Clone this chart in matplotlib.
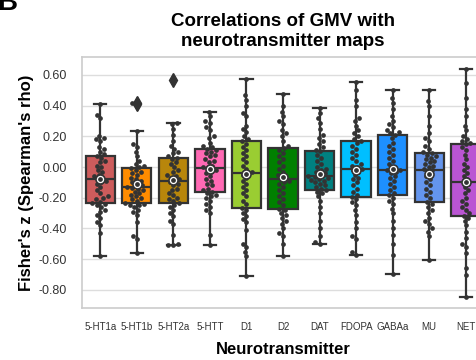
import numpy as np
import pandas as pd
import matplotlib
matplotlib.use("Agg")
import matplotlib.pyplot as plt
import seaborn as sns

categories = ["5-HT1a", "5-HT1b", "5-HT2a", "5-HTT", "D1", "D2", "DAT",
              "FDOPA", "GABAa", "MU", "NET"]
colors = ["#CD5C5C", "#FF8C00", "#B8860B", "#FF69B4", "#9ACD32", "#008000",
          "#008080", "#00BFFF", "#1E90FF", "#6495ED", "#BA55D3"]

ht1a = [-0.58, -0.43, -0.38, -0.36, -0.33, -0.31, -0.29, -0.28, -0.26, -0.25, -0.24,
        -0.235, -0.225, -0.21, -0.20, -0.19, -0.17, -0.15, -0.13, -0.11, -0.10, -0.09,
        -0.08, -0.07, -0.06, -0.05, -0.03, -0.02, 0.00, 0.01, 0.03, 0.04, 0.06,
        0.075, 0.085, 0.10, 0.12, 0.13, 0.17, 0.18, 0.19, 0.20, 0.32, 0.34, 0.41]
ht1b = [-0.56, -0.47, -0.45, -0.36, -0.31, -0.29, -0.28, -0.26, -0.25, -0.245, -0.24,
        -0.235, -0.22, -0.21, -0.20, -0.19, -0.18, -0.17, -0.16, -0.15, -0.14, -0.135,
        -0.13, -0.12, -0.11, -0.10, -0.09, -0.08, -0.07, -0.05, -0.04, -0.03, -0.02,
        -0.005, 0.00, 0.01, 0.02, 0.04, 0.07, 0.10, 0.13, 0.15, 0.235, 0.41, 0.42]
ht2a = [-0.51, -0.505, -0.50, -0.44, -0.37, -0.35, -0.32, -0.30, -0.28, -0.26, -0.25,
        -0.235, -0.22, -0.21, -0.20, -0.18, -0.17, -0.15, -0.14, -0.12, -0.11, -0.10,
        -0.09, -0.08, -0.07, -0.06, -0.05, -0.03, -0.02, 0.00, 0.02, 0.03, 0.05,
        0.06, 0.07, 0.09, 0.10, 0.12, 0.14, 0.17, 0.21, 0.25, 0.28, 0.29, 0.565]
htt = [-0.505, -0.44, -0.30, -0.28, -0.26, -0.24, -0.22, -0.20, -0.19, -0.18, -0.17,
       -0.16, -0.15, -0.14, -0.12, -0.11, -0.09, -0.08, -0.06, -0.04, -0.03, -0.02,
       -0.005, 0.00, 0.01, 0.03, 0.04, 0.05, 0.07, 0.08, 0.09, 0.10, 0.11,
       0.12, 0.13, 0.14, 0.16, 0.19, 0.20, 0.24, 0.26, 0.29, 0.30, 0.33, 0.36]
d1 = [-0.71, -0.58, -0.55, -0.52, -0.50, -0.41, -0.36, -0.34, -0.32, -0.30, -0.28,
      -0.267, -0.24, -0.22, -0.19, -0.17, -0.15, -0.13, -0.11, -0.09, -0.07, -0.05,
      -0.04, -0.03, -0.01, 0.01, 0.03, 0.05, 0.07, 0.09, 0.11, 0.13, 0.15,
      0.167, 0.18, 0.20, 0.23, 0.25, 0.27, 0.33, 0.35, 0.40, 0.44, 0.47, 0.574]
d2 = [-0.578, -0.50, -0.45, -0.43, -0.40, -0.37, -0.35, -0.33, -0.31, -0.30, -0.28,
      -0.272, -0.25, -0.23, -0.21, -0.19, -0.17, -0.15, -0.13, -0.11, -0.10, -0.09,
      -0.076, -0.06, -0.05, -0.03, -0.01, 0.01, 0.03, 0.05, 0.07, 0.09, 0.11,
      0.122, 0.14, 0.17, 0.20, 0.22, 0.24, 0.28, 0.30, 0.33, 0.36, 0.40, 0.476]
dat = [-0.498, -0.49, -0.45, -0.40, -0.35, -0.30, -0.26, -0.22, -0.19, -0.17, -0.16,
       -0.15, -0.14, -0.13, -0.12, -0.11, -0.10, -0.09, -0.085, -0.08, -0.07, -0.065,
       -0.061, -0.05, -0.04, -0.03, -0.02, -0.01, 0.00, 0.02, 0.04, 0.06, 0.08,
       0.104, 0.11, 0.13, 0.15, 0.17, 0.19, 0.21, 0.25, 0.29, 0.32, 0.35, 0.383]
fdopa = [-0.57, -0.55, -0.47, -0.45, -0.40, -0.36, -0.31, -0.28, -0.25, -0.23, -0.21,
         -0.198, -0.18, -0.16, -0.14, -0.12, -0.10, -0.08, -0.07, -0.05, -0.03, -0.02,
         -0.013, 0.00, 0.01, 0.02, 0.04, 0.06, 0.08, 0.10, 0.12, 0.14, 0.155,
         0.167, 0.18, 0.20, 0.22, 0.24, 0.27, 0.30, 0.32, 0.40, 0.44, 0.50, 0.557]
gabaa = [-0.698, -0.57, -0.50, -0.44, -0.40, -0.35, -0.30, -0.27, -0.24, -0.22, -0.20,
         -0.183, -0.17, -0.15, -0.13, -0.11, -0.09, -0.07, -0.06, -0.04, -0.03, -0.02,
         -0.017, 0.00, 0.02, 0.04, 0.06, 0.08, 0.10, 0.12, 0.14, 0.16, 0.19,
         0.211, 0.22, 0.23, 0.24, 0.26, 0.28, 0.30, 0.33, 0.38, 0.42, 0.45, 0.504]
mu = [-0.604, -0.45, -0.42, -0.40, -0.37, -0.35, -0.33, -0.30, -0.28, -0.26, -0.24,
      -0.226, -0.20, -0.18, -0.16, -0.14, -0.12, -0.10, -0.08, -0.06, -0.05, -0.03,
      -0.02, -0.01, 0.00, 0.01, 0.02, 0.03, 0.04, 0.05, 0.06, 0.07, 0.08,
      0.091, 0.10, 0.12, 0.14, 0.17, 0.19, 0.22, 0.27, 0.33, 0.40, 0.43, 0.504]
net = [-0.845, -0.70, -0.66, -0.56, -0.52, -0.50, -0.46, -0.42, -0.38, -0.35, -0.33,
       -0.317, -0.30, -0.28, -0.26, -0.24, -0.22, -0.20, -0.17, -0.15, -0.13, -0.11,
       -0.10, -0.08, -0.06, -0.04, -0.02, 0.00, 0.02, 0.05, 0.08, 0.11, 0.13,
       0.15, 0.16, 0.17, 0.18, 0.20, 0.24, 0.27, 0.33, 0.38, 0.45, 0.55, 0.636]

data = [ht1a, ht1b, ht2a, htt, d1, d2, dat, fdopa, gabaa, mu, net]
yticks = [-0.8, -0.6, -0.4, -0.2, 0.0, 0.2, 0.4, 0.6]

plt.rcParams['font.family'] = ['Liberation Sans', 'DejaVu Sans']
dark = "#333333"

fig = plt.figure(figsize=(4.77, 3.6), dpi=100)
W, H = 477, 360
ax = fig.add_axes([82 / W, 1 - 308 / H, (484 - 82) / W, (308 - 57) / H])
ax.set_axisbelow(True)
ax.yaxis.grid(True, color="#dddddd", lw=1.0)
ax.xaxis.grid(False)

pos = np.arange(len(categories))
bp = ax.boxplot(data, positions=pos, widths=0.8, patch_artist=True, whis=1.5,
                capwidths=0.34, showmeans=False,
                boxprops=dict(edgecolor=dark, lw=1.6),
                medianprops=dict(color=dark, lw=1.6),
                whiskerprops=dict(color=dark, lw=1.6),
                capprops=dict(color=dark, lw=1.6),
                flierprops=dict(marker='d', markerfacecolor=dark,
                                markeredgecolor=dark, markersize=7))
for patch, c in zip(bp['boxes'], colors):
    patch.set_facecolor(c)

df = pd.DataFrame({
    "cat": np.repeat(categories, [len(d) for d in data]),
    "val": np.concatenate(data),
})
sns.swarmplot(data=df, x="cat", y="val", order=categories, color=dark,
              size=3.4, linewidth=0, ax=ax, zorder=3)

means = [np.mean(d) for d in data]
ax.plot(pos, means, 'o', ms=6.5, mfc='white', mec=dark, mew=1.2, ls='none', zorder=5)
ax.plot(pos, means, 'o', ms=2.4, color=dark, ls='none', zorder=6)

ax.set_xlim(-0.5, 10.5)
ax.set_ylim(-0.918, 0.717)
ax.set_xticks(pos)
ax.set_xticklabels(categories, fontsize=7, color=dark)
ax.set_yticks(yticks)
ax.set_yticklabels([f"{t:.2f}" for t in yticks], fontsize=9, color=dark)
ax.tick_params(axis='both', length=0)
ax.tick_params(axis='x', pad=10)
ax.tick_params(axis='y', pad=11)
for s in ax.spines.values():
    s.set_color("#cccccc")
    s.set_linewidth(1.2)

ax.set_xlabel("Neurotransmitter", fontsize=12, fontweight='bold', labelpad=7)
ax.set_ylabel("Fisher's z (Spearman's rho)", fontsize=12, fontweight='bold', labelpad=3)
ax.set_title("Correlations of GMV with\nneurotransmitter maps", fontsize=13.5,
             fontweight='bold', pad=8)

fig.text(17 / W, 1 - 10 / H, "B", ha='right', va='baseline', fontsize=20,
         fontweight='bold')

fig.savefig("out.png", dpi=100)
